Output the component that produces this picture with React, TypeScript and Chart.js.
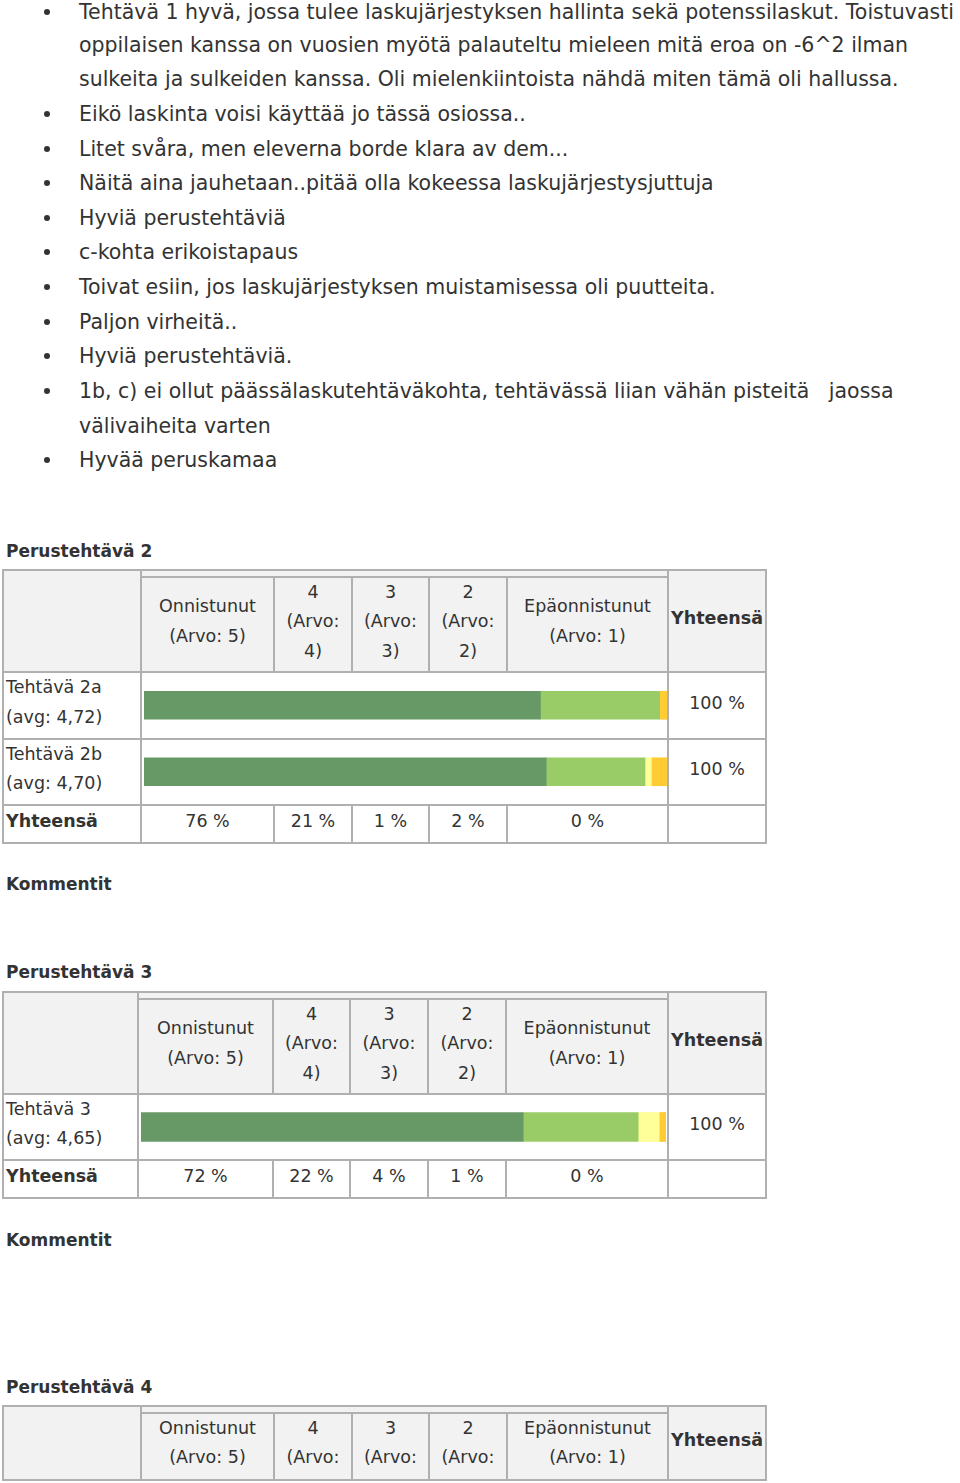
import React, { useEffect, useRef } from "react";
import { Chart, registerables } from "chart.js";

Chart.register(...registerables);

// ---------------- DATA ----------------
const levelNames = ["Onnistunut (Arvo: 5)", "4 (Arvo: 4)", "3 (Arvo: 3)", "2 (Arvo: 2)", "Epäonnistunut (Arvo: 1)"];
const levelHeaderLines = [
  ["Onnistunut", "(Arvo: 5)"],
  ["4", "(Arvo:", "4)"],
  ["3", "(Arvo:", "3)"],
  ["2", "(Arvo:", "2)"],
  ["Epäonnistunut", "(Arvo: 1)"],
];
const levelColors = ["#669966", "#99cc66", "#ffff99", "#ffcc33", "#cc3333"];

const task2Items = ["Tehtävä 2a", "Tehtävä 2b"];
const task2Avgs = ["4,72", "4,70"];
const task2Arvo5 = [75.8, 76.9];
const task2Arvo4 = [22.8, 18.9];
const task2Arvo3 = [0, 1.2];
const task2Arvo2 = [1.4, 3.0];
const task2Arvo1 = [0, 0];
const task2RowTotals = ["100 %", "100 %"];
const task2Totals = ["76 %", "21 %", "1 %", "2 %", "0 %"];

const task3Items = ["Tehtävä 3"];
const task3Avgs = ["4,65"];
const task3Arvo5 = [72.8];
const task3Arvo4 = [21.9];
const task3Arvo3 = [4.0];
const task3Arvo2 = [1.3];
const task3Arvo1 = [0];
const task3RowTotals = ["100 %"];
const task3Totals = ["72 %", "22 %", "4 %", "1 %", "0 %"];

const commentLines = [
  { bullet: true, text: "Tehtävä 1 hyvä, jossa tulee laskujärjestyksen hallinta sekä potenssilaskut. Toistuvasti" },
  { bullet: false, text: "oppilaisen kanssa on vuosien myötä palauteltu mieleen mitä eroa on -6^2 ilman" },
  { bullet: false, text: "sulkeita ja sulkeiden kanssa. Oli mielenkiintoista nähdä miten tämä oli hallussa." },
  { bullet: true, text: "Eikö laskinta voisi käyttää jo tässä osiossa.." },
  { bullet: true, text: "Litet svåra, men eleverna borde klara av dem..." },
  { bullet: true, text: "Näitä aina jauhetaan..pitää olla kokeessa laskujärjestysjuttuja" },
  { bullet: true, text: "Hyviä perustehtäviä" },
  { bullet: true, text: "c-kohta erikoistapaus" },
  { bullet: true, text: "Toivat esiin, jos laskujärjestyksen muistamisessa oli puutteita." },
  { bullet: true, text: "Paljon virheitä.." },
  { bullet: true, text: "Hyviä perustehtäviä." },
  { bullet: true, text: "1b, c) ei ollut päässälaskutehtäväkohta, tehtävässä liian vähän pisteitä   jaossa" },
  { bullet: false, text: "välivaiheita varten" },
  { bullet: true, text: "Hyvää peruskamaa" },
];

// ---------------- STYLE ----------------
const FONT = '"DejaVu Sans", Verdana, sans-serif';
const TEXT = "#333333";
const LINE = "#b0b0b0";
const HEAD_BG = "#f2f2f2";
const TABLE_SIZE = 17.5;

function Txt(props: any) {
  const { x, y, size = TABLE_SIZE, bold = false, align = "left", w = 200, lh: lhIn, shift = 0, children } = props;
  const lh = lhIn || Math.round(size * 1.4);
  const style: any = {
    position: "absolute",
    top: y - lh / 2 + shift,
    lineHeight: lh + "px",
    height: lh,
    fontSize: size,
    fontWeight: bold ? 700 : 400,
    whiteSpace: "pre",
    color: TEXT,
    fontFamily: FONT,
  };
  if (align === "center") {
    style.left = x - w / 2;
    style.width = w;
    style.textAlign = "center";
  } else {
    style.left = x;
  }
  return <div style={style}>{children}</div>;
}

function HLine({ x1, x2, y }: any) {
  return <div style={{ position: "absolute", left: x1 - 1, width: x2 - x1 + 2, top: y - 1, height: 2, background: LINE }} />;
}
function VLine({ x, y1, y2 }: any) {
  return <div style={{ position: "absolute", left: x - 1, width: 2, top: y1 - 1, height: y2 - y1 + 2, background: LINE }} />;
}

function BarChart({ items, series, left, top, width, height, thickness }: any) {
  const ref = useRef<HTMLCanvasElement>(null);
  useEffect(() => {
    if (!ref.current) return;
    const chart = new Chart(ref.current, {
      type: "bar",
      data: {
        labels: items,
        datasets: levelNames.map((name, i) => ({
          label: name,
          data: series[i],
          backgroundColor: levelColors[i],
          borderWidth: 0,
          barThickness: thickness,
        })),
      },
      options: {
        indexAxis: "y",
        responsive: false,
        maintainAspectRatio: false,
        animation: false,
        layout: { padding: 0 },
        plugins: { legend: { display: false }, tooltip: { enabled: false } },
        scales: {
          x: { stacked: true, min: 0, max: 100, display: false },
          y: { stacked: true, display: false },
        },
      },
    } as any);
    return () => chart.destroy();
  }, []);
  return (
    <canvas
      ref={ref}
      width={width}
      height={height}
      style={{ position: "absolute", left, top, width, height, display: "block" }}
    />
  );
}

function SurveyTable(props: any) {
  const {
    title, titleY, top, innerTop, headBottom, rowBottoms, cols, items, avgs, series,
    rowTotals, totals, barLeft, barRight, thickness, topAligned,
  } = props;
  const x0 = cols[0];
  const xLab = cols[1];
  const xBarR = cols[6];
  const x1 = cols[7];
  const els: any[] = [];
  const bottom = totals ? rowBottoms[rowBottoms.length - 1] : headBottom;
  // header background
  els.push(<div key="hbg" style={{ position: "absolute", left: x0, top, width: x1 - x0, height: headBottom - top, background: HEAD_BG }} />);
  // header level texts
  levelHeaderLines.forEach((lines, i) => {
    const cw = cols[i + 2] - cols[i + 1];
    const first = innerTop + 15 + (topAligned ? 0 : (3 - lines.length) * 14.75);
    lines.forEach((ln, j) => {
      const cy = first + j * 29.5;
      if (cy + 10 > headBottom) return; // hidden below the visible cell
      els.push(
        <Txt key={"hc" + i + "_" + j} x={(cols[i + 1] + cols[i + 2]) / 2} y={cy} align="center" w={cw}>
          {ln}
        </Txt>
      );
    });
  });
  els.push(<Txt key="hy" x={(xBarR + x1) / 2} y={(top + headBottom) / 2 - 3} bold align="center" w={x1 - xBarR + 4}>Yhteensä</Txt>);

  // rows
  let prev = headBottom;
  (items || []).forEach((it: string, r: number) => {
    const rb = rowBottoms[r];
    const cy = (prev + rb) / 2 - 3;
    els.push(<Txt key={"l1" + r} x={x0 + 3} y={cy - 14.75}>{it}</Txt>);
    els.push(<Txt key={"l2" + r} x={x0 + 3} y={cy + 14.75}>{"(avg: " + avgs[r] + ")"}</Txt>);
    els.push(<Txt key={"rt" + r} x={(xBarR + x1) / 2} y={cy + 0.5} align="center" w={x1 - xBarR}>{rowTotals[r]}</Txt>);
    prev = rb;
  });

  // totals row
  if (totals) {
    const tTop = rowBottoms[rowBottoms.length - 2];
    const tBot = rowBottoms[rowBottoms.length - 1];
    const cy = (tTop + tBot) / 2 - 3;
    els.push(<Txt key="ty" x={x0 + 3} y={cy} bold>Yhteensä</Txt>);
    totals.forEach((t: string, i: number) => {
      els.push(<Txt key={"tv" + i} x={(cols[i + 1] + cols[i + 2]) / 2} y={cy} align="center" w={cols[i + 2] - cols[i + 1]}>{t}</Txt>);
    });
  }

  // lines
  els.push(<HLine key="ht" x1={x0} x2={x1} y={top} />);
  els.push(<HLine key="hi" x1={xLab} x2={xBarR} y={innerTop} />);
  els.push(<HLine key="hb" x1={x0} x2={x1} y={headBottom} />);
  rowBottoms.forEach((rb: number, i: number) => els.push(<HLine key={"rb" + i} x1={x0} x2={x1} y={rb} />));
  [x0, xLab, xBarR, x1].forEach((x, i) => els.push(<VLine key={"vo" + i} x={x} y1={top} y2={bottom} />));
  for (let c = 2; c <= 5; c++) {
    els.push(<VLine key={"vh" + c} x={cols[c]} y1={innerTop} y2={headBottom} />);
    if (totals) {
      els.push(<VLine key={"vt" + c} x={cols[c]} y1={rowBottoms[rowBottoms.length - 2]} y2={rowBottoms[rowBottoms.length - 1]} />);
    }
  }

  // chart
  if (items && items.length) {
    const chartBottom = rowBottoms[items.length - 1];
    els.push(
      <BarChart key="chart" items={items} series={series} left={barLeft} top={headBottom}
        width={barRight - barLeft} height={chartBottom - headBottom} thickness={thickness} />
    );
  }

  return (
    <>
      <Txt x={6} y={titleY} size={17} bold>{title}</Txt>
      {els}
    </>
  );
}

export default function App() {
  useEffect(() => {
    document.body.style.margin = "0";
  }, []);
  return (
    <div style={{ position: "relative", width: 960, height: 1483, overflow: "hidden", background: "#fff", fontFamily: FONT }}>
      {commentLines.map((ln, i) => {
        const cy = i === 0 ? 12 : 10 + i * 34.64;
        return (
          <React.Fragment key={i}>
            {ln.bullet && (
              <div style={{ position: "absolute", left: 44, top: cy - 3, width: 6, height: 6, borderRadius: 3, background: TEXT }} />
            )}
            <Txt x={79} y={cy} size={20.5} lh={18} shift={0}>{ln.text}</Txt>
          </React.Fragment>
        );
      })}

      <SurveyTable
        title="Perustehtävä 2" titleY={551}
        top={570} innerTop={577} headBottom={672} rowBottoms={[739, 805, 843]}
        cols={[3, 141, 274, 352, 429, 507, 668, 766]}
        items={task2Items} avgs={task2Avgs}
        series={[task2Arvo5, task2Arvo4, task2Arvo3, task2Arvo2, task2Arvo1]}
        rowTotals={task2RowTotals} totals={task2Totals}
        barLeft={144} barRight={667} thickness={28}
      />
      <Txt x={6} y={884} size={17} bold>Kommentit</Txt>

      <SurveyTable
        title="Perustehtävä 3" titleY={972}
        top={992} innerTop={999} headBottom={1094} rowBottoms={[1160, 1198]}
        cols={[3, 138, 273, 350, 428, 506, 668, 766]}
        items={task3Items} avgs={task3Avgs}
        series={[task3Arvo5, task3Arvo4, task3Arvo3, task3Arvo2, task3Arvo1]}
        rowTotals={task3RowTotals} totals={task3Totals}
        barLeft={141} barRight={666} thickness={29}
      />
      <Txt x={6} y={1240} size={17} bold>Kommentit</Txt>

      <SurveyTable
        title="Perustehtävä 4" titleY={1387}
        top={1406} innerTop={1413} headBottom={1480} rowBottoms={[]}
        cols={[3, 141, 274, 352, 429, 507, 668, 766]}
        items={[]} topAligned
      />
    </div>
  );
}
